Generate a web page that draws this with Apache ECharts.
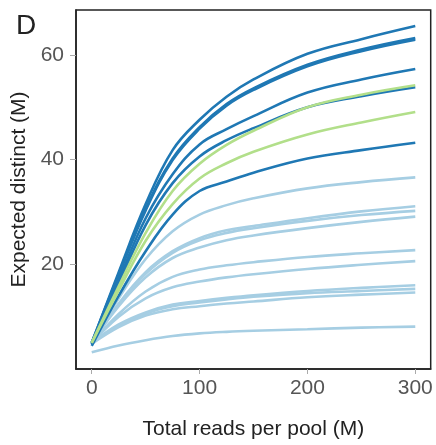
<!DOCTYPE html>
<html>
<head>
<meta charset="utf-8">
<script src="https://cdn.jsdelivr.net/npm/echarts@6/dist/echarts.min.js"></script>
<style>
html,body{margin:0;padding:0;background:#fff;}
#chart{width:436px;height:445px;}
</style>
</head>
<body>
<div id="chart"></div>
<script>
// x positions (total reads per pool, M)
const xValues = [0, 25, 50, 75, 100, 125, 150, 200, 250, 300];

// dark blue curves
const dark1 = [5.0, 18.5, 31.5, 41.8, 47.6, 52.0, 55.3, 60.2, 63.0, 65.5];
const dark2 = [5.0, 18.1, 30.6, 40.2, 46.2, 50.6, 53.6, 58.1, 61.0, 63.2];
const dark3 = [4.8, 17.9, 30.3, 39.9, 45.9, 50.3, 53.3, 57.8, 60.7, 62.9];
const dark4 = [5.0, 17.0, 28.8, 37.2, 42.9, 45.8, 48.3, 52.8, 55.3, 57.3];
const dark5 = [4.8, 16.3, 27.5, 35.5, 40.6, 43.7, 46.0, 50.0, 52.1, 53.8];
const dark6 = [4.4, 14.0, 22.5, 29.5, 34.0, 35.8, 37.5, 40.2, 41.8, 43.2];
// green curves
const green1 = [5.0, 15.8, 26.0, 34.0, 39.2, 42.8, 45.5, 50.0, 52.4, 54.2];
const green2 = [5.0, 15.0, 24.5, 31.5, 36.4, 39.3, 41.5, 44.8, 47.1, 49.1];
// light blue curves
const light1 = [5.0, 13.5, 21.0, 26.3, 29.5, 31.3, 32.6, 34.5, 35.7, 36.6];
const light2 = [5.0, 12.5, 18.5, 22.5, 25.0, 26.5, 27.3, 28.8, 30.1, 31.1];
const light3 = [5.0, 12.3, 18.2, 22.2, 24.6, 26.0, 26.9, 28.3, 29.4, 30.2];
const light4 = [5.0, 12.0, 17.5, 21.2, 23.2, 24.6, 25.5, 26.9, 28.1, 29.1];
const light5 = [5.0, 10.5, 14.8, 17.6, 19.0, 19.8, 20.4, 21.4, 22.1, 22.7];
const light6 = [5.0, 10.0, 13.5, 15.6, 16.7, 17.5, 18.1, 19.1, 19.9, 20.6];
const light7 = [5.0, 8.5, 10.8, 12.3, 13.0, 13.6, 14.1, 14.9, 15.5, 16.0];
const light8 = [5.0, 8.3, 10.6, 12.0, 12.7, 13.3, 13.8, 14.5, 14.9, 15.3];
const light9 = [4.8, 8.0, 10.2, 11.4, 12.0, 12.5, 12.9, 13.7, 14.2, 14.6];
const light10 = [3.2, 4.5, 5.5, 6.3, 6.8, 7.1, 7.3, 7.6, 7.9, 8.1];

const xTicks = [0, 100, 200, 300];
const yTicks = [20, 40, 60];

const lightSet = [light1, light2, light3, light4, light5, light6, light7, light8, light9, light10];
const darkSet = [dark1, dark2, dark3, dark4, dark5, dark6];
const greenSet = [green1, green2];

const COL_LIGHT = '#a6cee3', COL_DARK = '#1f78b4', COL_GREEN = '#b2df8a';
const FONT = '"Liberation Sans", Arial, sans-serif';

function mk(arr, color) {
  return {
    type: 'line',
    data: xValues.map((x, i) => [x, arr[i]]),
    showSymbol: false,
    smooth: 0.4,
    lineStyle: { color: color, width: 2.6 },
    emphasis: { disabled: true },
    silent: true,
    animation: false
  };
}

const series = []
  .concat(lightSet.map(a => mk(a, COL_LIGHT)))
  .concat(darkSet.map(a => mk(a, COL_DARK)))
  .concat(greenSet.map(a => mk(a, COL_GREEN)));

const chart = echarts.init(document.getElementById('chart'), null, { renderer: 'canvas' });
chart.setOption({
  animation: false,
  textStyle: { fontFamily: FONT },
  grid: {
    left: 76, right: 5.3, top: 10, bottom: 75,
    show: true, borderColor: '#222', borderWidth: 1.5, backgroundColor: 'transparent'
  },
  xAxis: {
    type: 'value', min: -14.6, max: 314.3,
    axisLine: { show: true, onZero: false, lineStyle: { color: '#222', width: 1.5 } },
    axisTick: { show: true, customValues: xTicks, length: 5, lineStyle: { color: '#aaa', width: 1 } },
    axisLabel: { customValues: xTicks, fontSize: 21, color: '#555', margin: 9, fontFamily: FONT },
    splitLine: { show: false },
    name: 'Total reads per pool (M)', nameLocation: 'middle', nameGap: 50,
    nameTextStyle: { fontSize: 21, color: '#222', fontFamily: FONT }
  },
  yAxis: {
    type: 'value', min: 0, max: 68.57,
    axisLine: { show: true, onZero: false, lineStyle: { color: '#222', width: 1.5 } },
    axisTick: { show: true, customValues: yTicks, length: 6, lineStyle: { color: '#aaa', width: 1 } },
    axisLabel: { customValues: yTicks, fontSize: 21, color: '#555', margin: 12, fontFamily: FONT },
    splitLine: { show: false },
    name: 'Expected distinct (M)', nameLocation: 'middle', nameGap: 40, nameRotate: 90,
    nameTextStyle: { fontSize: 21, color: '#222', fontFamily: FONT }
  },
  graphic: [{
    type: 'text', left: 16, top: 12,
    style: { text: 'D', fontSize: 28, fill: '#222', fontFamily: FONT }
  }],
  series: series
});
</script>
</body>
</html>
